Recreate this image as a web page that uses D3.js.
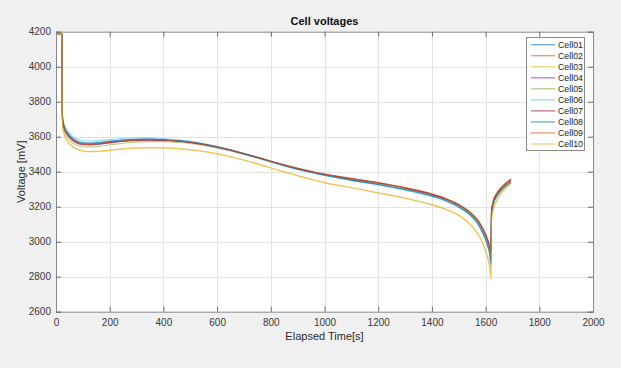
<!DOCTYPE html>
<html>
<head>
<meta charset="utf-8">
<script src="https://cdn.jsdelivr.net/npm/d3@7"></script>
<style>
html,body{margin:0;padding:0;background:#f0f0f0;}
svg{display:block;}
text{font-family:"Liberation Sans",Arial,sans-serif;}
</style>
</head>
<body>
<svg id="chart" width="621" height="368"></svg>
<script>
// ---- data ----
const times = [0, 22, 23.5, 25, 28, 34, 42, 55, 75, 100, 130, 170, 220, 280,
  340, 400, 460, 520, 580, 640, 700, 760, 820, 880, 940, 1000,
  1100, 1200, 1300, 1400, 1450, 1500,
  1540, 1570, 1590, 1605, 1615, 1620,
  1622, 1628, 1640, 1655, 1675, 1695];

const cellNames = ["Cell01","Cell02","Cell03","Cell04","Cell05","Cell06","Cell07","Cell08","Cell09","Cell10"];
const cellColors = ["#0072BD","#D95319","#EDB120","#7E2F8E","#77AC30","#4DBEEE","#A2142F","#0072BD","#D95319","#EDB120"];

const cell01 = [4185,4185, 3750,3700,3675,3646,3626,3600,3578,3566,3564,3570,3578,3585,
  3587,3584,3577,3566,3549,3528,3503,3477,3449,3423,3400,3380,
  3352,3327,3298,3262,3237,3200, 3158,3108,3052,2995,2940,2880, 3160,3215,3258,3290,3320,3342];
const cell02 = [4185,4185, 3738,3688,3662,3634,3614,3589,3567,3555,3553,3560,3569,3578,
  3581,3580,3574,3563,3547,3527,3503,3478,3451,3426,3405,3386,
  3361,3337,3308,3272,3247,3212, 3170,3122,3070,3017,2968,2930, 3175,3230,3273,3305,3335,3357];
const cell03 = [4185,4185, 3720,3660,3630,3600,3578,3553,3533,3520,3516,3519,3527,3535,
  3538,3537,3532,3523,3509,3490,3467,3441,3413,3387,3362,3338,
  3310,3280,3250,3212,3187,3153, 3105,3050,2990,2920,2850,2785, 3120,3180,3230,3268,3305,3332];
const cell04 = [4185,4185, 3735,3686,3661,3633,3613,3588,3566,3554,3553,3559,3569,3577,
  3580,3579,3573,3562,3546,3526,3502,3477,3450,3425,3403,3384,
  3359,3335,3306,3270,3245,3210, 3168,3121,3070,3018,2970,2935, 3170,3225,3268,3300,3330,3352];
const cell05 = [4185,4185, 3725,3672,3648,3620,3600,3575,3554,3543,3541,3547,3557,3567,
  3572,3572,3567,3557,3542,3522,3498,3473,3447,3422,3400,3381,
  3356,3332,3303,3267,3242,3206, 3163,3114,3060,3004,2952,2905, 3162,3217,3260,3292,3322,3344];
const cell06 = [4185,4185, 3760,3712,3686,3658,3638,3612,3590,3577,3575,3580,3587,3593,
  3594,3590,3582,3569,3551,3529,3503,3476,3448,3421,3398,3378,
  3350,3324,3294,3258,3233,3196, 3154,3102,3045,2985,2925,2860, 3155,3210,3253,3285,3315,3337];
const cell07 = [4185,4185, 3740,3690,3665,3637,3617,3592,3570,3558,3556,3562,3571,3579,
  3582,3580,3574,3563,3547,3527,3503,3478,3451,3426,3404,3385,
  3359,3335,3306,3270,3245,3210, 3170,3125,3075,3025,2980,2950, 3170,3225,3268,3300,3330,3352];
const cell08 = [4185,4185, 3745,3696,3670,3642,3622,3597,3575,3563,3561,3567,3576,3584,
  3586,3583,3576,3565,3548,3527,3502,3476,3449,3423,3401,3381,
  3352,3327,3297,3261,3236,3199, 3156,3105,3049,2990,2932,2870, 3158,3213,3256,3288,3318,3340];
const cell09 = [4185,4185, 3741,3691,3666,3638,3618,3593,3571,3559,3557,3563,3572,3580,
  3583,3581,3575,3564,3548,3528,3504,3479,3452,3427,3406,3387,
  3362,3338,3309,3273,3248,3213, 3172,3126,3075,3024,2976,2940, 3176,3231,3274,3306,3336,3358];
const cell10 = [4185,4185, 3715,3655,3626,3597,3575,3550,3530,3517,3514,3517,3525,3533,
  3536,3535,3530,3521,3507,3488,3465,3439,3411,3385,3360,3336,
  3308,3278,3248,3210,3185,3150, 3100,3045,2988,2925,2865,2810, 3125,3185,3234,3272,3308,3336];

const xTicks = [0,200,400,600,800,1000,1200,1400,1600,1800,2000];
const yTicks = [2600,2800,3000,3200,3400,3600,3800,4000,4200];

const cellValues = [cell01,cell02,cell03,cell04,cell05,cell06,cell07,cell08,cell09,cell10];

// ---- layout ----
const svg = d3.select("#chart");
const L = 56, R = 593, T = 31.7, B = 311.7;
const x = d3.scaleLinear().domain([0,2000]).range([L,R]);
const y = d3.scaleLinear().domain([2600,4200]).range([B,T]);

svg.append("rect").attr("x",0).attr("y",0).attr("width",621).attr("height",368).attr("fill","#f0f0f0");
svg.append("rect").attr("x",L).attr("y",T).attr("width",R-L).attr("height",B-T).attr("fill","#ffffff");

// grid
const grid = svg.append("g");
grid.selectAll(".gx").data(xTicks.slice(1,-1)).join("line")
  .attr("x1",d=>Math.round(x(d))+0.5).attr("x2",d=>Math.round(x(d))+0.5)
  .attr("y1",T).attr("y2",B).attr("stroke","#e3e3e3").attr("stroke-width",1);
grid.selectAll(".gy").data(yTicks.slice(1,-1)).join("line")
  .attr("y1",d=>Math.round(y(d))+0.5).attr("y2",d=>Math.round(y(d))+0.5)
  .attr("x1",L).attr("x2",R).attr("stroke","#e3e3e3").attr("stroke-width",1);

// lines
const line = d3.line().x((d,i)=>x(times[i])).y(d=>y(d)).curve(d3.curveMonotoneX);
const lines = svg.append("g");
cellValues.forEach((vals,k)=>{
  lines.append("path").datum(vals).attr("d",line)
    .attr("fill","none").attr("stroke",cellColors[k]).attr("stroke-opacity",0.6).attr("stroke-width",1.1);
});

// axes (ticks inside, box on)
const axisColor = "#8a8a8a";
const tickLen = 5;
const ax = svg.append("g");
ax.append("g").attr("transform",`translate(0,${B})`)
  .call(d3.axisBottom(x).tickValues(xTicks).tickSize(-tickLen).tickPadding(7).tickFormat(d3.format("d")));
ax.append("g").attr("transform",`translate(0,${T})`)
  .call(d3.axisTop(x).tickValues(xTicks).tickSize(-tickLen).tickFormat(""));
ax.append("g").attr("transform",`translate(${L},0)`)
  .call(d3.axisLeft(y).tickValues(yTicks).tickSize(-tickLen).tickPadding(5).tickFormat(d3.format("d")));
ax.append("g").attr("transform",`translate(${R},0)`)
  .call(d3.axisRight(y).tickValues(yTicks).tickSize(-tickLen).tickFormat(""));
ax.selectAll(".domain").attr("stroke",axisColor);
ax.selectAll(".tick line").attr("stroke","#6a6a6a");
ax.selectAll(".tick text").attr("fill","#3a3a3a").style("font-size","10px")
  .style("font-family","'Liberation Sans',Arial,sans-serif");

// labels
svg.append("text").attr("x",(L+R)/2).attr("y",25).attr("text-anchor","middle")
  .style("font-size","11px").style("font-weight","bold").attr("fill","#111").text("Cell voltages");
svg.append("text").attr("x",(L+R)/2).attr("y",340).attr("text-anchor","middle")
  .style("font-size","11px").attr("fill","#2a2a2a").text("Elapsed Time[s]");
svg.append("text").attr("transform",`translate(25,${(T+B)/2}) rotate(-90)`).attr("text-anchor","middle")
  .style("font-size","11px").attr("fill","#2a2a2a").text("Voltage [mV]");

// legend
const lg = svg.append("g");
lg.append("rect").attr("x",526.5).attr("y",37.5).attr("width",58).attr("height",113)
  .attr("fill","#fff").attr("stroke","#8a8a8a").attr("stroke-width",1);
cellNames.forEach((n,k)=>{
  const yy = 44.7 + 11.03*k;
  lg.append("line").attr("x1",531).attr("x2",555).attr("y1",yy).attr("y2",yy)
    .attr("stroke",cellColors[k]).attr("stroke-opacity",0.6).attr("stroke-width",1.3);
  lg.append("text").attr("x",558).attr("y",yy+3.2).style("font-size","8.8px").attr("fill","#222").text(n);
});
</script>
</body>
</html>
